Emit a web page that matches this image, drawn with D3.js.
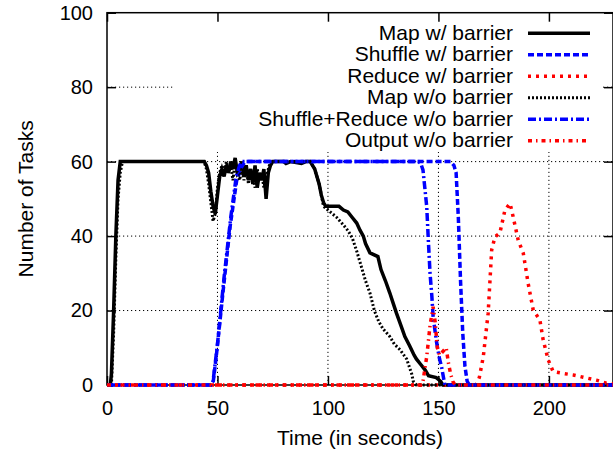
<!DOCTYPE html>
<html>
<head>
<meta charset="utf-8">
<script src="https://cdn.jsdelivr.net/npm/d3@7"></script>
<style>
  body { margin: 0; background: #fff; }
  svg { display: block; }
</style>
</head>
<body>
<div id="chart"></div>
<script>
// data: [time (s), number of tasks]
var mapBarrier = [[0,0],[1.5,0],[2,3],[3,20],[4,40],[5,55],[6,60],[44,60],[45,59],[46,57],[47,52],[48,48],[49,46],[50,51],[51,56],[52,58],[53,56],[54,59],[55,57],[56,60],[57,58],[58,61],[59,57],[60,58],[61,60],[62,56],[63,59],[64,55],[65,58],[66,54],[67,59],[68,53],[69,57],[70,55],[71,58],[72,50],[73,57],[74,59],[75,60],[80,60],[81,59.5],[83,60],[88,59.5],[90,60],[92,60],[93,59],[94,58],[95,56],[96,54],[97,51],[98,49],[99,48],[105,48],[107,47],[109,46.5],[111,45],[113,43.5],[114.5,41.6],[116,40],[117,38],[119,35.5],[122.6,34.5],[124,31],[126,28],[128,24.7],[129.5,22],[131,19.3],[133,16],[134.8,13],[137,10.5],[139,8],[140,7],[142,5.5],[144,4],[145.5,2.5],[149,2],[151,1],[152,0],[229,0]];
var shuffleBarrier = [[0,0],[47,0],[48,0.5],[49.6,8.5],[52.6,25.5],[55.7,42.5],[58.7,55],[61,58.6],[62.5,60],[155.5,60],[157,59],[158,57],[159,45],[160,28],[161,14],[162,5],[163,1],[164,0],[229,0]];
var reduceBarrier = [[0,0],[167,0],[168.5,2],[170.3,7.6],[172.5,19.3],[174.1,36.3],[175.6,39.8],[177.8,40.8],[180.1,47],[182.4,48.8],[183.8,45.2],[186.1,38.9],[188.4,35.4],[190.6,27.3],[192.9,20.1],[195.9,17.5],[197.4,12.1],[199.7,6.7],[201.9,3.6],[206.5,3.1],[211,2.7],[215.5,2.1],[221.5,1.3],[226,0.5],[229,0.3]];
var mapNoBarrier = [[0,0],[2,0],[3,14],[4,34],[5,50],[6,57],[7,60],[44,60],[45,58],[46,54],[47,49],[48,44],[49,46],[50,53],[51,57],[52,59],[53,57],[54,60],[55,57],[56,59],[57,55],[58,60],[59,57],[60,55],[61,58],[62,55],[63,59],[64,54],[65,58],[66,56],[67,53],[68,58],[69,55],[70,57],[71,53],[72,56],[73,58],[74,60],[92,60],[93,59],[94,58],[95,56],[96,54],[97,51],[98,48],[100,47],[104,45],[107,43],[109,41.5],[111,39.5],[113,36],[115,32],[117,28],[119,24.7],[121,20],[123,17],[125,15],[128,13],[130,11],[132.6,9.5],[135.6,7],[137.9,3],[138.6,1],[140,0],[229,0]];
var shuffleReduceNoBarrier = [[0,0],[47,0],[48,1],[50,11],[53,29],[56,45],[58.5,56],[60,59],[61,60],[141,60],[142,59.5],[143,57.8],[144,52],[144.7,47.9],[145.5,38],[146.2,30],[147,24],[147.6,18.3],[149.2,11.3],[150.5,7],[151.4,4.9],[152.9,0],[229,0]];
var outputNoBarrier = [[0,0],[142,0],[143,1],[144.7,7.6],[146.2,16],[147.6,21],[148.5,17],[149.5,10],[150.5,8],[152,9],[153.5,10],[154.5,6],[155.5,3],[156.5,1],[157.5,0],[229,0]];

var seriesNames = ['Map w/ barrier', 'Shuffle w/ barrier', 'Reduce w/ barrier',
                   'Map w/o barrier', 'Shuffle+Reduce w/o barrier', 'Output w/o barrier'];
var xTicks = [0, 50, 100, 150, 200];
var yTicks = [0, 20, 40, 60, 80, 100];

var width = 613, height = 451;
var plotLeft = 107, plotRight = 613, plotTop = 12.7, plotBottom = 385;
var mainFont = '"Liberation Sans", Arial, Helvetica, sans-serif';

var series = [mapBarrier, shuffleBarrier, reduceBarrier, mapNoBarrier, shuffleReduceNoBarrier, outputNoBarrier];
var styles = [
    { color: '#000000', width: 3.5, dash: null },
    { color: '#0000ff', width: 3.5, dash: '6,3' },
    { color: '#ff0000', width: 3.5, dash: '3,5' },
    { color: '#000000', width: 3,   dash: '2,2' },
    { color: '#0000ff', width: 3.5, dash: '8,3,2,3' },
    { color: '#ff0000', width: 3.5, dash: '4,4,1.5,4' }
];

var x = d3.scaleLinear().domain([0, 229]).range([plotLeft, plotRight]);
var y = d3.scaleLinear().domain([0, 100]).range([plotBottom, plotTop]);

var svg = d3.select('#chart').append('svg')
    .attr('width', width)
    .attr('height', height);

svg.append('rect')
    .attr('width', width).attr('height', height)
    .style('fill', '#fff');

// grid
svg.append('g').selectAll('line')
    .data(xTicks.filter(function(d) { return d > 0; }))
    .join('line')
    .attr('x1', function(d) { return x(d); })
    .attr('x2', function(d) { return x(d); })
    .attr('y1', plotBottom).attr('y2', plotTop)
    .attr('stroke', '#000').attr('stroke-width', 1)
    .attr('stroke-dasharray', '1.2,2.8');

svg.append('g').selectAll('line')
    .data(yTicks.filter(function(d) { return d > 0 && d < 100; }))
    .join('line')
    .attr('x1', plotLeft).attr('x2', plotRight)
    .attr('y1', function(d) { return y(d); })
    .attr('y2', function(d) { return y(d); })
    .attr('stroke', '#000').attr('stroke-width', 1)
    .attr('stroke-dasharray', '1.2,2.8');

// opaque key box
svg.append('rect')
    .attr('x', 175).attr('y', plotTop + 1)
    .attr('width', 603 - 175).attr('height', 152 - plotTop - 1)
    .style('fill', '#fff');

// axes, ticks point inwards like gnuplot
function styleAxis(g) {
    g.select('.domain').remove();
    g.selectAll('.tick line').attr('stroke', '#000').attr('stroke-width', 1.5);
    g.selectAll('.tick text')
        .style('font-family', mainFont)
        .style('font-size', '20px')
        .attr('fill', '#000');
}

svg.append('g')
    .attr('transform', 'translate(' + plotLeft + ',0)')
    .call(d3.axisLeft(y).tickValues(yTicks).tickSizeInner(-9).tickSizeOuter(0).tickPadding(14))
    .call(styleAxis);
svg.append('g')
    .attr('transform', 'translate(' + plotRight + ',0)')
    .call(d3.axisRight(y).tickValues(yTicks).tickSizeInner(-9).tickSizeOuter(0).tickFormat(''))
    .call(styleAxis);
svg.append('g')
    .attr('transform', 'translate(0,' + plotBottom + ')')
    .call(d3.axisBottom(x).tickValues(xTicks).tickSizeInner(-9).tickSizeOuter(0).tickPadding(16))
    .call(styleAxis);
svg.append('g')
    .attr('transform', 'translate(0,' + plotTop + ')')
    .call(d3.axisTop(x).tickValues(xTicks).tickSizeInner(-9).tickSizeOuter(0).tickFormat(''))
    .call(styleAxis);

// border
svg.append('rect')
    .attr('x', plotLeft).attr('y', plotTop)
    .attr('width', plotRight - plotLeft).attr('height', plotBottom - plotTop)
    .attr('fill', 'none')
    .attr('stroke', '#000')
    .attr('stroke-width', 1.5);

// curves
var line = d3.line()
    .x(function(d) { return x(d[0]); })
    .y(function(d) { return y(d[1]); });

for (var i = 0; i < series.length; i++) {
    svg.append('path')
        .datum(series[i])
        .attr('d', line)
        .attr('fill', 'none')
        .attr('stroke', styles[i].color)
        .attr('stroke-width', styles[i].width)
        .attr('stroke-dasharray', styles[i].dash)
        .attr('stroke-linejoin', 'miter')
        .attr('stroke-linecap', 'butt');
}

// key
var keyTextX = 513, keyLineX1 = 528, keyLineX2 = 590, keyTop = 33.3, keyStep = 21.5;
for (var i = 0; i < seriesNames.length; i++) {
    var ry = keyTop + i * keyStep;
    svg.append('text')
        .attr('x', keyTextX)
        .attr('y', ry + 6.5)
        .attr('text-anchor', 'end')
        .style('font-family', mainFont)
        .style('font-size', '21px')
        .attr('fill', '#000')
        .text(seriesNames[i]);
    svg.append('line')
        .attr('x1', keyLineX1).attr('x2', keyLineX2)
        .attr('y1', ry).attr('y2', ry)
        .attr('stroke', styles[i].color)
        .attr('stroke-width', styles[i].width)
        .attr('stroke-dasharray', styles[i].dash);
}

// axis titles
svg.append('text')
    .attr('x', (plotLeft + plotRight) / 2)
    .attr('y', 445)
    .attr('text-anchor', 'middle')
    .style('font-family', mainFont)
    .style('font-size', '21px')
    .text('Time (in seconds)');

svg.append('text')
    .attr('transform', 'translate(33,' + ((plotTop + plotBottom) / 2) + ') rotate(-90)')
    .attr('text-anchor', 'middle')
    .style('font-family', mainFont)
    .style('font-size', '21px')
    .text('Number of Tasks');
</script>
</body>
</html>
